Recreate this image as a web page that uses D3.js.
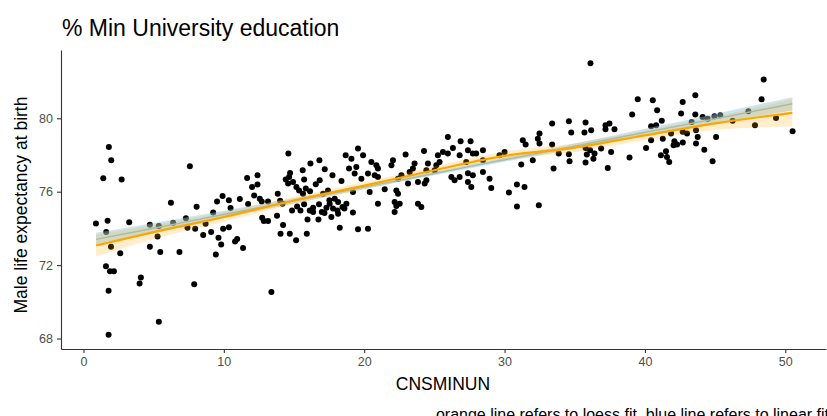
<!DOCTYPE html>
<html>
<head>
<meta charset="utf-8">
<script src="https://cdn.jsdelivr.net/npm/d3@7"></script>
<style>
  body { margin: 0; background: #ffffff; }
  svg text { font-family: "Liberation Sans", Arial, sans-serif; }
</style>
</head>
<body>
<svg id="chart" width="827" height="416"></svg>
<script>
// Share of population with at least university education (%) per area
const eduPct = [
  1.81, 1.98, 1.41, 2.72, 7.58, 0.89, 1.72, 1.62, 3.26, 6.23, 8.06, 4.73, 5.37, 6.39, 7.30, 7.41, 7.96, 8.70,
  8.53, 5.28, 1.96, 4.73, 2.62, 5.47, 6.84, 1.60, 1.89, 2.17, 4.09, 4.00, 7.89, 1.79, 5.37, 1.79,
  14.60, 16.17, 16.81, 18.68, 19.09, 19.56, 19.44, 18.92, 19.32, 15.62, 17.19, 14.72, 14.41, 14.65, 14.58, 14.93,
  15.17, 15.36, 15.72, 15.84, 16.14, 16.83, 16.55, 17.74, 18.38, 17.42, 11.66, 12.40, 12.40, 12.01, 12.16, 12.56,
  12.70, 13.15, 13.84, 14.01, 14.18, 9.91, 9.52, 10.36, 11.14, 11.73, 10.48, 9.24, 9.95, 10.36, 9.10, 9.62,
  9.81, 10.95, 10.80, 11.37, 9.43, 12.73, 12.85, 13.15, 13.79, 14.22, 14.04, 15.15, 15.91, 15.96, 14.86, 15.22,
  15.46, 15.72, 16.12, 16.36, 16.78, 16.98, 16.74, 17.17, 17.31, 17.52, 17.90, 18.14, 18.45, 18.09, 18.59, 19.20,
  18.26, 19.56, 13.39, 19.20,
  15.64, 16.36, 17.07, 17.54, 17.78, 18.73, 17.66, 18.14, 14.70,
  19.92, 20.51, 20.87, 20.98, 19.80, 20.27, 20.75, 20.98, 22.05, 21.94, 22.95, 24.26, 23.59, 23.47, 25.25, 25.61,
  25.96, 26.32, 26.87, 27.58, 26.80, 27.39, 27.74, 28.46, 28.46, 25.14, 22.65, 22.41, 20.39, 21.46, 22.29, 22.41,
  23.12, 23.83, 24.31, 24.43, 25.02, 26.21, 26.44, 26.80, 27.39, 27.63, 27.74, 28.46, 28.93, 29.05, 20.98, 22.17,
  22.29, 22.17, 23.83, 24.07, 20.27,
  25.96, 27.98, 29.64, 24.54, 25.37, 27.27, 23.24, 24.43, 27.39, 22.53,
  30.00, 31.30, 31.50, 32.49, 32.37, 32.49, 33.39, 34.58, 34.75, 35.77, 35.69, 36.17, 33.39, 33.86, 34.58, 35.77,
  36.10, 35.86, 36.41, 36.33, 36.88, 37.19, 37.47, 37.19, 37.83, 37.59, 39.09, 39.49, 38.90, 32.01, 31.19, 34.63,
  35.77, 33.49, 37.35, 30.88, 31.42, 30.31, 30.88, 32.44,
  40.56, 40.87, 42.69, 43.59, 42.58, 43.59, 48.46, 48.31, 41.20, 40.44, 40.80, 43.33, 44.11, 44.47, 44.95, 45.37,
  46.25, 47.37, 47.84, 49.34, 50.52, 41.86, 42.69, 43.00, 43.64, 43.76, 43.64, 45.07, 40.44, 41.27, 40.08, 42.10,
  42.29, 42.70, 42.04, 41.50, 41.14, 41.57, 41.73, 44.23, 44.82,
  36.12
];

// Male life expectancy at birth (years), same order as eduPct
const maleLifeExp = [
  78.44, 77.71, 76.73, 76.66, 77.38, 74.27, 74.42, 73.80, 74.34, 75.40, 75.18, 74.20, 74.13, 74.31, 74.56, 74.04, 73.98, 74.26,
  73.64, 73.56, 73.00, 73.00, 72.64, 72.71, 72.71, 71.94, 71.67, 71.66, 71.33, 71.00, 70.96, 70.60, 68.91, 68.20,
  78.08, 77.53, 77.71, 77.98, 77.80, 78.35, 77.35, 77.26, 76.99, 77.17, 77.22, 77.02, 76.66, 76.80, 76.44, 76.53,
  76.25, 76.07, 76.66, 76.17, 76.02, 76.62, 76.40, 76.89, 76.58, 76.07, 76.75, 76.89, 76.39, 76.25, 75.79, 75.62,
  75.47, 75.47, 75.89, 75.51, 75.35, 75.76, 75.47, 75.53, 75.60, 75.33, 75.11, 74.86, 73.98, 74.06, 73.80, 73.49,
  73.13, 73.42, 73.29, 72.93, 72.58, 74.58, 74.40, 74.40, 74.69, 74.18, 73.71, 73.36, 73.71, 74.48, 74.98, 75.20,
  74.98, 75.31, 74.98, 75.13, 75.31, 74.89, 74.48, 74.84, 75.13, 75.53, 75.62, 75.44, 75.16, 74.98, 75.08, 74.86,
  74.04, 73.95, 70.53, 75.98,
  75.89, 74.89, 75.89, 75.35, 75.08, 75.35, 74.62, 74.80, 73.71,
  77.98, 77.62, 77.44, 77.26, 76.71, 76.99, 76.89, 76.80, 77.71, 77.44, 78.02, 78.22, 77.53, 77.26, 77.98, 78.16,
  78.98, 78.38, 78.75, 78.75, 77.98, 78.26, 78.08, 78.26, 77.71, 77.44, 76.89, 76.71, 75.98, 76.13, 76.07, 75.89,
  76.44, 76.53, 76.44, 76.62, 77.17, 76.80, 76.62, 76.80, 76.53, 76.25, 76.89, 77.07, 76.71, 76.20, 75.35, 75.44,
  75.22, 74.89, 75.35, 75.16, 73.98,
  78.08, 78.08, 77.98, 77.53, 77.62, 77.62, 77.07, 77.17, 77.00, 75.35,
  78.16, 78.80, 78.57, 79.17, 78.89, 78.62, 79.71, 79.84, 79.22, 79.77, 79.22, 79.35, 78.57, 78.08, 78.04, 78.38,
  78.26, 78.02, 78.08, 77.80, 78.35, 79.62, 79.71, 79.40, 79.40, 78.16, 80.20, 81.04, 77.86, 77.71, 77.48, 77.66,
  77.59, 77.26, 77.29, 76.39, 76.25, 75.95, 75.20, 75.26,
  80.98, 80.44, 80.89, 81.26, 80.26, 80.20, 82.11, 81.04, 79.86, 79.57, 79.62, 79.80, 80.07, 79.98, 80.11, 80.17,
  79.86, 80.38, 79.62, 80.02, 79.29, 79.17, 79.26, 79.17, 79.35, 78.98, 78.62, 78.98, 78.80, 78.89, 78.38, 78.75,
  78.57, 78.68, 78.53, 78.20, 77.98, 77.89, 77.62, 78.29, 77.66,
  83.00
];

// Fitted curves, evaluated along the x range
const fitGrid   = [0.9, 5, 10, 15, 20, 25, 30, 35, 40, 45, 50.5];
const linearFit = [73.40, 74.01, 74.76, 75.50, 76.25, 76.99, 77.74, 78.48, 79.23, 79.97, 80.79];
const linearLo  = [73.04, 73.73, 74.56, 75.36, 76.14, 76.89, 77.63, 78.34, 79.03, 79.70, 80.43];
const linearHi  = [73.76, 74.29, 74.96, 75.64, 76.36, 77.09, 77.85, 78.62, 79.43, 80.24, 81.15];
const loessFit  = [73.07, 73.80, 74.62, 75.52, 76.33, 77.17, 77.95, 78.40, 79.07, 79.72, 80.30];
const loessLo   = [72.47, 73.42, 74.36, 75.32, 76.13, 76.95, 77.71, 78.16, 78.81, 79.36, 79.55];
const loessHi   = [73.67, 74.18, 74.88, 75.72, 76.53, 77.39, 78.19, 78.64, 79.33, 80.08, 81.05];

const xTicks = [0, 10, 20, 30, 40, 50];
const yTicks = [68, 72, 76, 80];

const titleText   = "% Min University education";
const xTitle      = "CNSMINUN";
const yTitle      = "Male life expectancy at birth";
const captionText = "orange line refers to loess fit, blue line refers to linear fit";

// ---- layout ----
const panel = { left: 61, right: 826, top: 50, bottom: 349 };

const svg = d3.select("#chart");

const x = d3.scaleLinear().domain([-1.6, 52.9]).range([panel.left, panel.right]);
const y = d3.scaleLinear().domain([67.43, 83.72]).range([panel.bottom, panel.top]);

// points
const pts = eduPct.map((v, i) => ({ x: v, y: maleLifeExp[i] }));
svg.append("g")
  .selectAll("circle")
  .data(pts)
  .join("circle")
  .attr("cx", d => x(d.x))
  .attr("cy", d => y(d.y))
  .attr("r", 3)
  .attr("fill", "#000000");

// smoother bands and lines
const fitRows = fitGrid.map((g, i) => ({
  g, lin: linearFit[i], linLo: linearLo[i], linHi: linearHi[i],
  lo: loessFit[i], loLo: loessLo[i], loHi: loessHi[i]
}));

const curve = d3.curveMonotoneX;
const area = (lo, hi) => d3.area().curve(curve).x(d => x(d.g)).y0(d => y(d[lo])).y1(d => y(d[hi]));
const line = key => d3.line().curve(curve).x(d => x(d.g)).y(d => y(d[key]));

svg.append("path").datum(fitRows)
  .attr("d", area("linLo", "linHi"))
  .attr("fill", "#8fc3d6").attr("fill-opacity", 0.45);
svg.append("path").datum(fitRows)
  .attr("d", line("lin"))
  .attr("fill", "none").attr("stroke", "#8cc4d4").attr("stroke-width", 1.4);

svg.append("path").datum(fitRows)
  .attr("d", area("loLo", "loHi"))
  .attr("fill", "#FFA500").attr("fill-opacity", 0.2);
svg.append("path").datum(fitRows)
  .attr("d", line("lo"))
  .attr("fill", "none").attr("stroke", "#FFA500").attr("stroke-width", 2.2);

// axes
const axisColor = "#333333";
const xAxis = svg.append("g")
  .attr("transform", `translate(0,${panel.bottom})`)
  .call(d3.axisBottom(x).tickValues(xTicks).tickSize(4).tickSizeOuter(0).tickPadding(4));
const yAxis = svg.append("g")
  .attr("transform", `translate(${panel.left},0)`)
  .call(d3.axisLeft(y).tickValues(yTicks).tickSize(4).tickSizeOuter(0).tickPadding(4));

[xAxis, yAxis].forEach(a => {
  a.select(".domain").attr("stroke", axisColor).attr("stroke-width", 1.1);
  a.selectAll(".tick line").attr("stroke", axisColor).attr("stroke-width", 1.1);
  a.selectAll(".tick text")
    .attr("fill", "#4d4d4d")
    .style("font-size", "12.5px")
    .style("font-family", "\"Liberation Sans Narrow\", \"Liberation Sans\", Arial, sans-serif");
});

// titles
svg.append("text")
  .attr("x", 62).attr("y", 36)
  .attr("fill", "#000")
  .style("font-size", "23px")
  .text(titleText);

svg.append("text")
  .attr("x", 443).attr("y", 390)
  .attr("text-anchor", "middle")
  .attr("fill", "#000")
  .style("font-size", "17.5px")
  .text(xTitle);

svg.append("text")
  .attr("transform", "translate(27,205) rotate(-90)")
  .attr("text-anchor", "middle")
  .attr("fill", "#000")
  .style("font-size", "17.5px")
  .text(yTitle);

svg.append("text")
  .attr("x", 829).attr("y", 420)
  .attr("text-anchor", "end")
  .attr("fill", "#000")
  .style("font-size", "16px")
  .text(captionText);
</script>
</body>
</html>
